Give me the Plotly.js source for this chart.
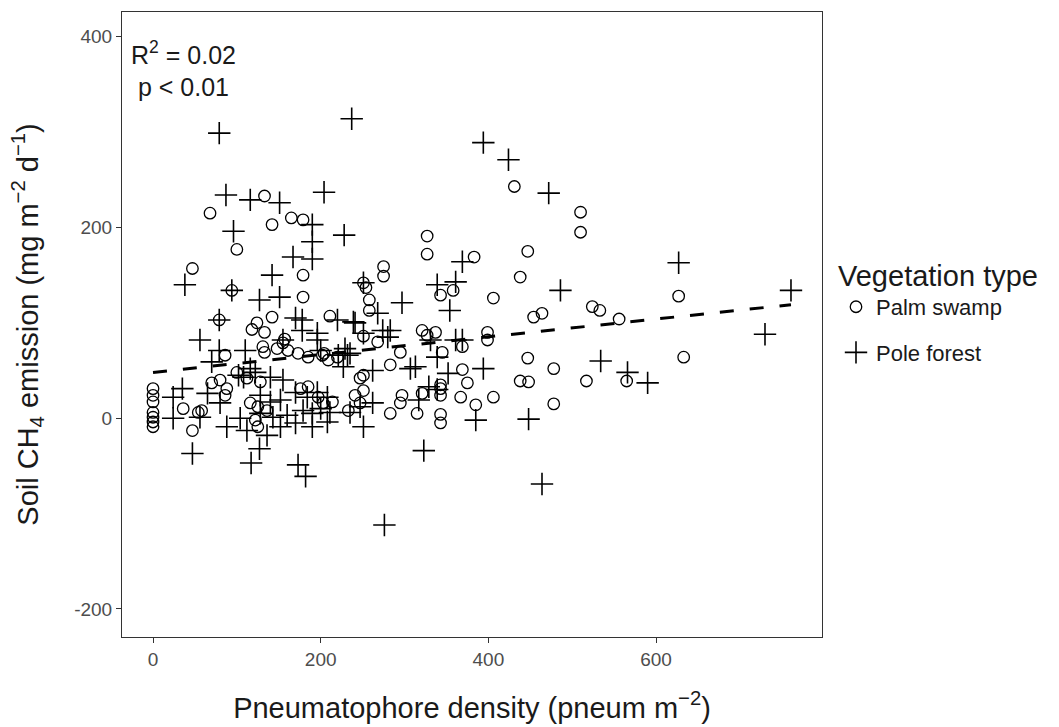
<!DOCTYPE html>
<html>
<head>
<meta charset="utf-8">
<script src="https://cdn.plot.ly/plotly-3.0.1.min.js"></script>
<style>html,body{margin:0;padding:0;background:#fff;}#chart{width:1059px;height:727px;}</style>
</head>
<body>
<div id="chart"></div>
<script>
// Palm swamp (circles)
const palmX = [68,133,142,165,179,100,47, 431,327,327,383,447, 510,510,627,524,533,556,517,565,633,
  94,179,179,79,124,142,133,157,211,86,133,204,
  275,275,251,254,258,258,343,358,406,438,454,464,251,268,321,337,369,399,399,345,295,283,251,447,478,438,448,478,369,375,343,343,321,367,385,406,343,343,315,297,295,283,241,251,233,
  100,80,88,70, 0,0,0,0,0,0,0, 36,54,58,47,86,
  118,131,148,155,161,173,185,202,209,220,112,128,176,185,197,203,214,116,125,136,122,125,
  327,247,247,343];
const palmY = [215,233,203,210,208,177,157, 243,191,172,169,175, 216,195,128,117,113,104,39,39,64,
  134,150,127,103,100,106,90,83,107,66,69,68,
  159,149,142,137,124,113,129,134,126,148,106,110,86,80,92,90,75,90,82,69,69,56,45,63,52,39,38,15,51,37,31,24,26,22,14,22,4,-5,5,24,16,5,24,29,8,
  48,40,31,37, 31,24,17,6,1,-4,-9, 10,6,8,-13,24,
  93,75,73,79,71,68,64,66,61,64,42,38,31,33,22,16,17,16,12,8,-2,-9,
  87,42,16,35];

// Pole forest (crosses)
const poleX = [79,237,87,116,151,204,96,190,190,190,228,167,142, 394,424,472,369, 627,761,730,486, 534,566,590,
  38,94,127,151,79,170,178,220,239,56,79,110,196,
  251,268,297,339,361,354,241,283,331,361,369,394,339,232,307,313,262,352,329,385,448,317,251,235,247,262,
  323,276,464,47,127,117,173,182,
  70,24,35,24,56,88,104,65,80,102,108,
  178,196,155,200,221,227,122,140,155,116,170,184,196,208,128,140,152,128,143,160,179,190,200,211,152,170,190,208,112,136,
  251,274,280,229,235,339];
const poleY = [299,314,234,229,226,237,196,203,185,167,192,169,150, 289,271,236,164, 163,134,88,134, 60,48,37,
  140,134,124,127,103,105,103,103,101,82,71,71,82,
  142,110,121,140,143,113,100,92,82,82,82,52,64,66,52,54,50,47,33,-2,-1,19,-9,6,12,16,
  -34,-112,-69,-37,-32,-47,-49,-61,
  59,22,31,0,1,-9,0,26,16,45,43,
  92,89,82,71,66,54,48,43,40,52,27,22,27,22,24,17,19,5,1,3,8,5,10,6,-9,-5,-9,-4,-13,-18,
  89,92,85,73,68,30];

// Fitted regression line
const fitX = [0, 761];
const fitY = [48, 119];

// Ticks
const xTicks = [0, 200, 400, 600];
const xTickText = ['0', '200', '400', '600'];
const yTicks = [-200, 0, 200, 400];
const yTickText = ['-200', '0', '200', '400'];

const FONT = 'Liberation Sans, Arial, sans-serif';

const traces = [
  {
    x: fitX, y: fitY, mode: 'lines', type: 'scatter', showlegend: false, hoverinfo: 'skip',
    line: {color: '#000000', width: 3, dash: '14px,16px'}
  },
  {
    x: palmX, y: palmY, mode: 'markers', type: 'scatter', name: 'Palm swamp', legendgroup: 'a',
    marker: {symbol: 'circle-open', size: 11.5, color: '#000000', line: {width: 1.3, color: '#000000'}}
  },
  {
    x: poleX, y: poleY, mode: 'markers', type: 'scatter', name: 'Pole forest', legendgroup: 'b',
    marker: {symbol: 'cross-thin-open', size: 16, color: '#000000', line: {width: 1.6, color: '#000000'}}
  }
];

const layout = {
  width: 1059, height: 727,
  margin: {l: 122, r: 237, t: 12, b: 90},
  paper_bgcolor: '#ffffff', plot_bgcolor: '#ffffff',
  font: {family: FONT, color: '#000000'},
  xaxis: {
    range: [-37, 798], tickvals: xTicks, ticktext: xTickText,
    showgrid: false, zeroline: false, showline: true, mirror: true,
    linecolor: '#333333', linewidth: 1,
    ticks: 'outside', ticklen: 5, tickcolor: '#333333', tickwidth: 1,
    tickfont: {size: 19, color: '#4d4d4d', family: FONT},
    title: {text: 'Pneumatophore density (pneum m<sup>−2</sup>)', font: {size: 29, color: '#1a1a1a', family: FONT}, standoff: 28},
    automargin: false
  },
  yaxis: {
    range: [-229.5, 426], tickvals: yTicks, ticktext: yTickText,
    showgrid: false, zeroline: false, showline: true, mirror: true,
    linecolor: '#333333', linewidth: 1,
    ticks: 'outside', ticklen: 5, tickcolor: '#333333', tickwidth: 1,
    tickfont: {size: 19, color: '#4d4d4d', family: FONT},
    title: {text: 'Soil CH<sub>4</sub> emission (mg m<sup>−2</sup> d<sup>−1</sup>)', font: {size: 29, color: '#1a1a1a', family: FONT}, standoff: 27},
    automargin: false
  },
  legend: {
    x: 1.02, xanchor: 'left', y: 0.622, yanchor: 'top',
    title: {text: 'Vegetation type', font: {size: 29, color: '#1a1a1a', family: FONT}},
    font: {size: 22, color: '#1a1a1a', family: FONT},
    traceorder: 'grouped', tracegroupgap: 14,
    bgcolor: 'rgba(0,0,0,0)', borderwidth: 0
  },
  annotations: [{
    x: 36, y: 366, xref: 'x', yref: 'y', showarrow: false,
    text: 'R<sup>2</sup> = 0.02<br>p < 0.01', align: 'center', xanchor: 'center', yanchor: 'middle',
    font: {size: 25, color: '#1a1a1a', family: FONT}
  }]
};

Plotly.newPlot('chart', traces, layout, {displayModeBar: false, staticPlot: true});
</script>
</body>
</html>
